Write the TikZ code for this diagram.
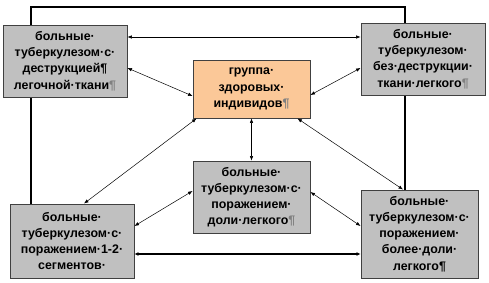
\documentclass[tikz,border=0pt]{standalone}
\usepackage{fontspec}
\setmainfont{Liberation Sans}[BoldFont={Liberation Sans Bold}]
\usetikzlibrary{arrows.meta,backgrounds}
\definecolor{boxgray}{RGB}{192,192,192}
\definecolor{boxorange}{RGB}{251,200,152}
\definecolor{boxedge}{RGB}{64,64,64}
\begin{document}
\begin{tikzpicture}[x=1pt,y=-1pt,
  box/.style={draw=boxedge,line width=0.9pt,fill=boxgray,inner sep=0pt,align=center,
    font=\fontsize{12.4}{16.2}\selectfont\bfseries},
  link/.style={line width=0.5pt,{Latex[length=4.5pt,width=3.5pt]}-{Latex[length=4.5pt,width=3.5pt]}},
  bold link/.style={line width=2.2pt,{Latex[length=4pt,width=4pt]}-{Latex[length=4pt,width=4pt]}},
  frame/.style={line width=2pt}]
\useasboundingbox (0,0) rectangle (489,283);
\newcommand{\pil}{{\color{gray}¶}}
\node[box,minimum width=124pt,minimum height=72pt] (TL) at (65,61)
  {больные·\\туберкулезом·с·\\деструкцией¶\\легочной·ткани\pil};
\node[box,fill=boxorange,minimum width=117pt,minimum height=58pt] (OR) at (251.5,89)
  {группа·\\здоровых·\\индивидов\pil};
\node[box,minimum width=124pt,minimum height=72pt] (TR) at (423,59)
  {больные·\\туберкулезом·\\без·деструкции·\\ткани·легкого\pil};
\node[box,minimum width=117pt,minimum height=72pt] (C) at (251.5,197)
  {больные·\\туберкулезом·с·\\поражением·\\доли·легкого\pil};
\node[box,minimum width=124pt,minimum height=74pt] (BL) at (72,241)
  {больные·\\туберкулезом·с·\\поражением·1-2·\\сегментов·};
\node[box,minimum width=117pt,minimum height=88pt] (BR) at (419.5,234)
  {больные·\\туберкулезом·с·\\поражением·\\более·доли·\\легкого¶};
\coordinate (topL) at (31,7);
\coordinate (topR) at (405,7);
\begin{scope}[on background layer]
  \draw[frame] ([xshift=-41pt]BL.north) -- (topL) -- (topR) -- ([xshift=-14.5pt]BR.north);
\end{scope}
\draw[link] ([yshift=24pt]TL.east) -- ([yshift=24pt]TL.east -| TR.west);
\draw[link] ([yshift=-7pt]TL.east) -- ([yshift=-7pt]OR.west);
\draw[link] ([yshift=-9pt]TR.west) -- ([yshift=-6pt]OR.east);
\draw[link] (OR.south) -- (C.north);
\draw[link] ([xshift=4pt]OR.south west) -- ([xshift=12pt]BL.north);
\draw[link] ([xshift=-13pt]OR.south east) -- ([xshift=-16.5pt]BR.north);
\draw[link] ([yshift=6pt]C.west) -- ([yshift=15pt]BL.east);
\draw[link] ([yshift=5pt]C.east) -- ([yshift=8pt]BR.west);
\draw[bold link] ([yshift=-13pt]BL.east) -- ([yshift=-13pt]BL.east -| BR.west);
\end{tikzpicture}
\end{document}
